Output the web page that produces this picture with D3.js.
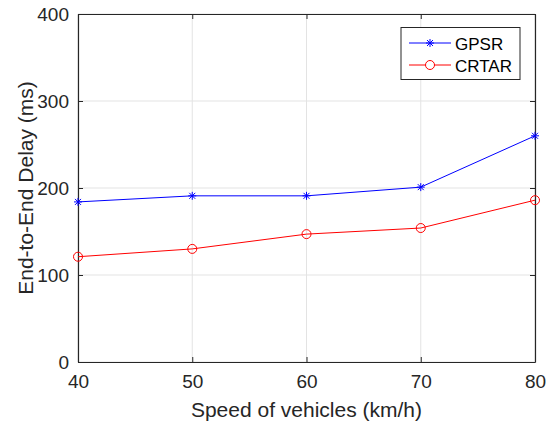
<!DOCTYPE html>
<html><head><meta charset="utf-8">
<script src="https://cdn.jsdelivr.net/npm/d3@7"></script>
<style>body{margin:0;background:#fff}svg{display:block;font-family:Helvetica,Arial,"Liberation Sans",sans-serif}</style>
</head><body>
<svg id="c" width="550" height="426"></svg>
<script>
const speeds = [40, 50, 60, 70, 80];
const gpsr = [184, 191, 191, 201, 260];
const crtar = [121, 130, 147, 154, 186];
const xTicks = [40, 50, 60, 70, 80];
const yTicks = [0, 100, 200, 300, 400];
const seriesNames = ["GPSR", "CRTAR"];

const svg = d3.select("#c");
const L = 78, R = 535, T = 14, B = 362;
const x = d3.scaleLinear().domain([40, 80]).range([L, R]);
const y = d3.scaleLinear().domain([0, 400]).range([B, T]);
const axisCol = "#262626";

// grid
svg.append("g").selectAll("line").data(xTicks).join("line")
  .attr("x1", d => x(d)).attr("x2", d => x(d)).attr("y1", T).attr("y2", B)
  .attr("stroke", "#e3e3e3").attr("stroke-width", 1);
svg.append("g").selectAll("line").data(yTicks).join("line")
  .attr("y1", d => y(d)).attr("y2", d => y(d)).attr("x1", L).attr("x2", R)
  .attr("stroke", "#e3e3e3").attr("stroke-width", 1);

// axes
const fs = "19px";
const xb = svg.append("g").attr("transform", `translate(0,${B})`)
  .call(d3.axisBottom(x).tickValues(xTicks).tickSizeInner(-5).tickSizeOuter(0).tickPadding(13));
const xt = svg.append("g").attr("transform", `translate(0,${T})`)
  .call(d3.axisTop(x).tickValues(xTicks).tickSizeInner(-5).tickSizeOuter(0).tickFormat(""));
const yl = svg.append("g").attr("transform", `translate(${L},0)`)
  .call(d3.axisLeft(y).tickValues(yTicks).tickSizeInner(-5).tickSizeOuter(0).tickPadding(9));
const yr = svg.append("g").attr("transform", `translate(${R},0)`)
  .call(d3.axisRight(y).tickValues(yTicks).tickSizeInner(-5).tickSizeOuter(0).tickFormat(""));
[xb, xt, yl, yr].forEach(g => {
  g.selectAll("path").attr("stroke", axisCol).attr("stroke-width", 1.2);
  g.selectAll("line").attr("stroke", axisCol);
  g.selectAll("text").attr("fill", axisCol).style("font-size", fs).style("font-family", "Helvetica,Arial,'Liberation Sans',sans-serif");
});

// lines
const line = d3.line().x((d, i) => x(speeds[i])).y(d => y(d));
svg.append("path").datum(gpsr).attr("d", line).attr("fill", "none").attr("stroke", "#0000ff").attr("stroke-width", 1);
svg.append("path").datum(crtar).attr("d", line).attr("fill", "none").attr("stroke", "#ff0000").attr("stroke-width", 1);

function star(g, cx, cy, col) {
  const s = 4;
  const sg = g.append("g").attr("transform", `translate(${cx},${cy})`).attr("stroke", col).attr("stroke-width", 1);
  sg.append("line").attr("x1", -s).attr("x2", s).attr("y1", 0).attr("y2", 0);
  sg.append("line").attr("x1", 0).attr("x2", 0).attr("y1", -s).attr("y2", s);
  sg.append("line").attr("x1", -s*0.75).attr("x2", s*0.75).attr("y1", -s*0.75).attr("y2", s*0.75);
  sg.append("line").attr("x1", -s*0.75).attr("x2", s*0.75).attr("y1", s*0.75).attr("y2", -s*0.75);
}
const mg = svg.append("g");
gpsr.forEach((v, i) => star(mg, x(speeds[i]), y(v), "#0000ff"));
mg.selectAll("circle").data(crtar).join("circle")
  .attr("cx", (d, i) => x(speeds[i])).attr("cy", d => y(d)).attr("r", 4.5)
  .attr("fill", "none").attr("stroke", "#ff0000").attr("stroke-width", 1);

// axis labels
svg.append("text").attr("x", (L + R) / 2).attr("y", 417).attr("text-anchor", "middle")
  .attr("fill", axisCol).style("font-size", "21px").text("Speed of vehicles (km/h)");
svg.append("text").attr("transform", `translate(33,${(T + B) / 2}) rotate(-90)`).attr("text-anchor", "middle")
  .attr("fill", axisCol).style("font-size", "21px").text("End-to-End Delay (ms)");

// legend
const lg = svg.append("g");
lg.append("rect").attr("x", 401).attr("y", 27.5).attr("width", 119).attr("height", 52)
  .attr("fill", "#fff").attr("stroke", axisCol).attr("stroke-width", 1);
const cols = ["#0000ff", "#ff0000"];
seriesNames.forEach((n, i) => {
  const yy = 43 + i * 22;
  lg.append("line").attr("x1", 409).attr("x2", 451).attr("y1", yy).attr("y2", yy).attr("stroke", cols[i]);
  if (i === 0) star(lg, 430, yy, cols[i]);
  else lg.append("circle").attr("cx", 430).attr("cy", yy).attr("r", 4.5).attr("fill", "#fff").attr("stroke", cols[i]);
  lg.append("text").attr("x", 455).attr("y", yy + 6.5).attr("fill", "#000").style("font-size", "17px").text(n);
});
</script>
</body></html>
